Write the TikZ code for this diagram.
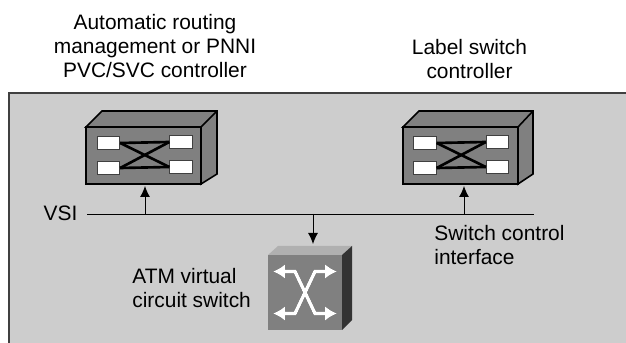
\documentclass[tikz,border=0pt]{standalone}
\usepackage{fontspec}
\setmainfont{Liberation Sans}
\usepackage{xcolor}
\usepackage{tikz}
\usetikzlibrary{calc}
\usetikzlibrary{arrows}
\usetikzlibrary{arrows.meta}
\usetikzlibrary{positioning}
\tikzset{>=latex}
\definecolor{panelgray}{HTML}{CDCDCD}
\definecolor{frontgray}{HTML}{808080}
\definecolor{topgray}{HTML}{B0B0B0}
\definecolor{sidegray}{HTML}{333333}
\tikzstyle{lbl} = [draw=none, inner sep = 0, align = center, font = \fontsize{11.9}{13.7}\selectfont]
\tikzstyle{lbll} = [lbl, align = left]
\tikzstyle{ctrlfront} = [draw = black, line width = 0.9pt, fill = frontgray, minimum width = 2.3cm, minimum height = 1.14cm, inner sep = 0]
\tikzstyle{port} = [draw = black!75, line width = 0.5pt, fill = white, minimum width = 0.45cm, minimum height = 0.25cm, inner sep = 0]
\tikzstyle{wire} = [draw = black, line width = 1.5pt]
\tikzstyle{sig} = [draw = black, line width = 0.5pt]
\tikzstyle{sigarrow} = [sig, -{Latex[length=2.2mm, width=2mm]}]
\tikzstyle{swarrow} = [draw = white, line width = 2pt, -{Latex[length=2.4mm, width=3mm]}]
\tikzstyle{swshadow} = [draw = black, line width = 2pt, -{Latex[length=2.4mm, width=3mm]}]

\begin{document}
\begin{tikzpicture}[x=0.2mm, y=-0.2mm]
\useasboundingbox (0, 0) rectangle (626, 343);
\fill [panelgray] (9, 93) rectangle (626, 343);
\draw [draw = black!75, line width = 0.7pt] (9, 343) -- (9, 93) -- (626, 93);

% controller on the left
\draw [draw = black, line width = 0.9pt, fill = frontgray] (86, 127) -- (102, 111) -- (217, 111) -- (217, 174) -- (201, 184) -- (201, 127) -- cycle;
\draw [draw = black, line width = 0.9pt] (201, 127) -- (217, 111);
\node [ctrlfront] (CtrlA) at (143.5, 155.5) {};
\node [port] (PA1) at (108.5, 143) {};
\node [port] (PA2) at (108.5, 168) {};
\node [port] (PA3) at (181, 142) {};
\node [port] (PA4) at (181, 167) {};
\draw [wire] (PA1.east) -- (PA3.west);
\draw [wire] (PA2.east) -- (PA4.west);
\draw [wire] (PA1.east) -- (PA4.west);
\draw [wire] (PA2.east) -- (PA3.west);

% controller on the right
\draw [draw = black, line width = 0.9pt, fill = frontgray] (403, 127) -- (419, 111) -- (533, 111) -- (533, 174) -- (518, 184) -- (518, 127) -- cycle;
\draw [draw = black, line width = 0.9pt] (518, 127) -- (533, 111);
\node [ctrlfront] (CtrlB) at (460.5, 155.5) {};
\node [port] (PB1) at (425, 143) {};
\node [port] (PB2) at (425, 168) {};
\node [port] (PB3) at (497.5, 142) {};
\node [port] (PB4) at (497.5, 167) {};
\draw [wire] (PB1.east) -- (PB3.west);
\draw [wire] (PB2.east) -- (PB4.west);
\draw [wire] (PB1.east) -- (PB4.west);
\draw [wire] (PB2.east) -- (PB3.west);

% bus
\node [lbll] (VSI) at (60.5, 213) {VSI};
\coordinate (BusL) at (87, 214);
\coordinate (BusR) at (534, 214);
\draw [sig] (BusL) -- (BusR);
\coordinate (TapA) at (145, 214);
\coordinate (TapB) at (464, 214);
\coordinate (TapS) at (313, 214);
\coordinate (TipA) at (145, 186);
\coordinate (TipB) at (464, 186);
\coordinate (TipS) at (313, 244);
\draw [sigarrow] (TapA) to (TipA);
\draw [sigarrow] (TapB) to (TipB);
\draw [sigarrow] (TapS) to (TipS);

% switch
\fill [topgray] (268, 255) -- (278, 246) -- (352, 246) -- (342, 255) -- cycle;
\fill [sidegray] (342, 255) -- (352, 246) -- (352, 320) -- (342, 330) -- cycle;
\node [fill = frontgray, minimum width = 1.48cm, minimum height = 1.5cm, inner sep = 0] (Switch) at (305, 292.5) {};
\foreach \sx/\sy in {1/1, -1/1, 1/-1, -1/-1} {
  \draw [swshadow, xshift = 0.85pt, yshift = 0.85pt] (Switch.center) -- ($(Switch.center) + (\sx*10, \sy*21)$) -- ($(Switch.center) + (\sx*32, \sy*21)$);
}
\foreach \sx/\sy in {1/1, -1/1, 1/-1, -1/-1} {
  \draw [swarrow] (Switch.center) -- ($(Switch.center) + (\sx*10, \sy*21)$) -- ($(Switch.center) + (\sx*32, \sy*21)$);
}

% labels
\node [lbl] (LblA) at (155, 46) {Automatic routing\\management or PNNI\\PVC/SVC controller};
\node [lbl] (LblB) at (469.5, 59) {Label switch\\controller};
\node [lbll, anchor = west] (LblS) at (434, 245) {Switch control\\interface};
\node [lbll, anchor = west] (LblV) at (132, 288) {ATM virtual\\circuit switch};
\end{tikzpicture}
\end{document}
